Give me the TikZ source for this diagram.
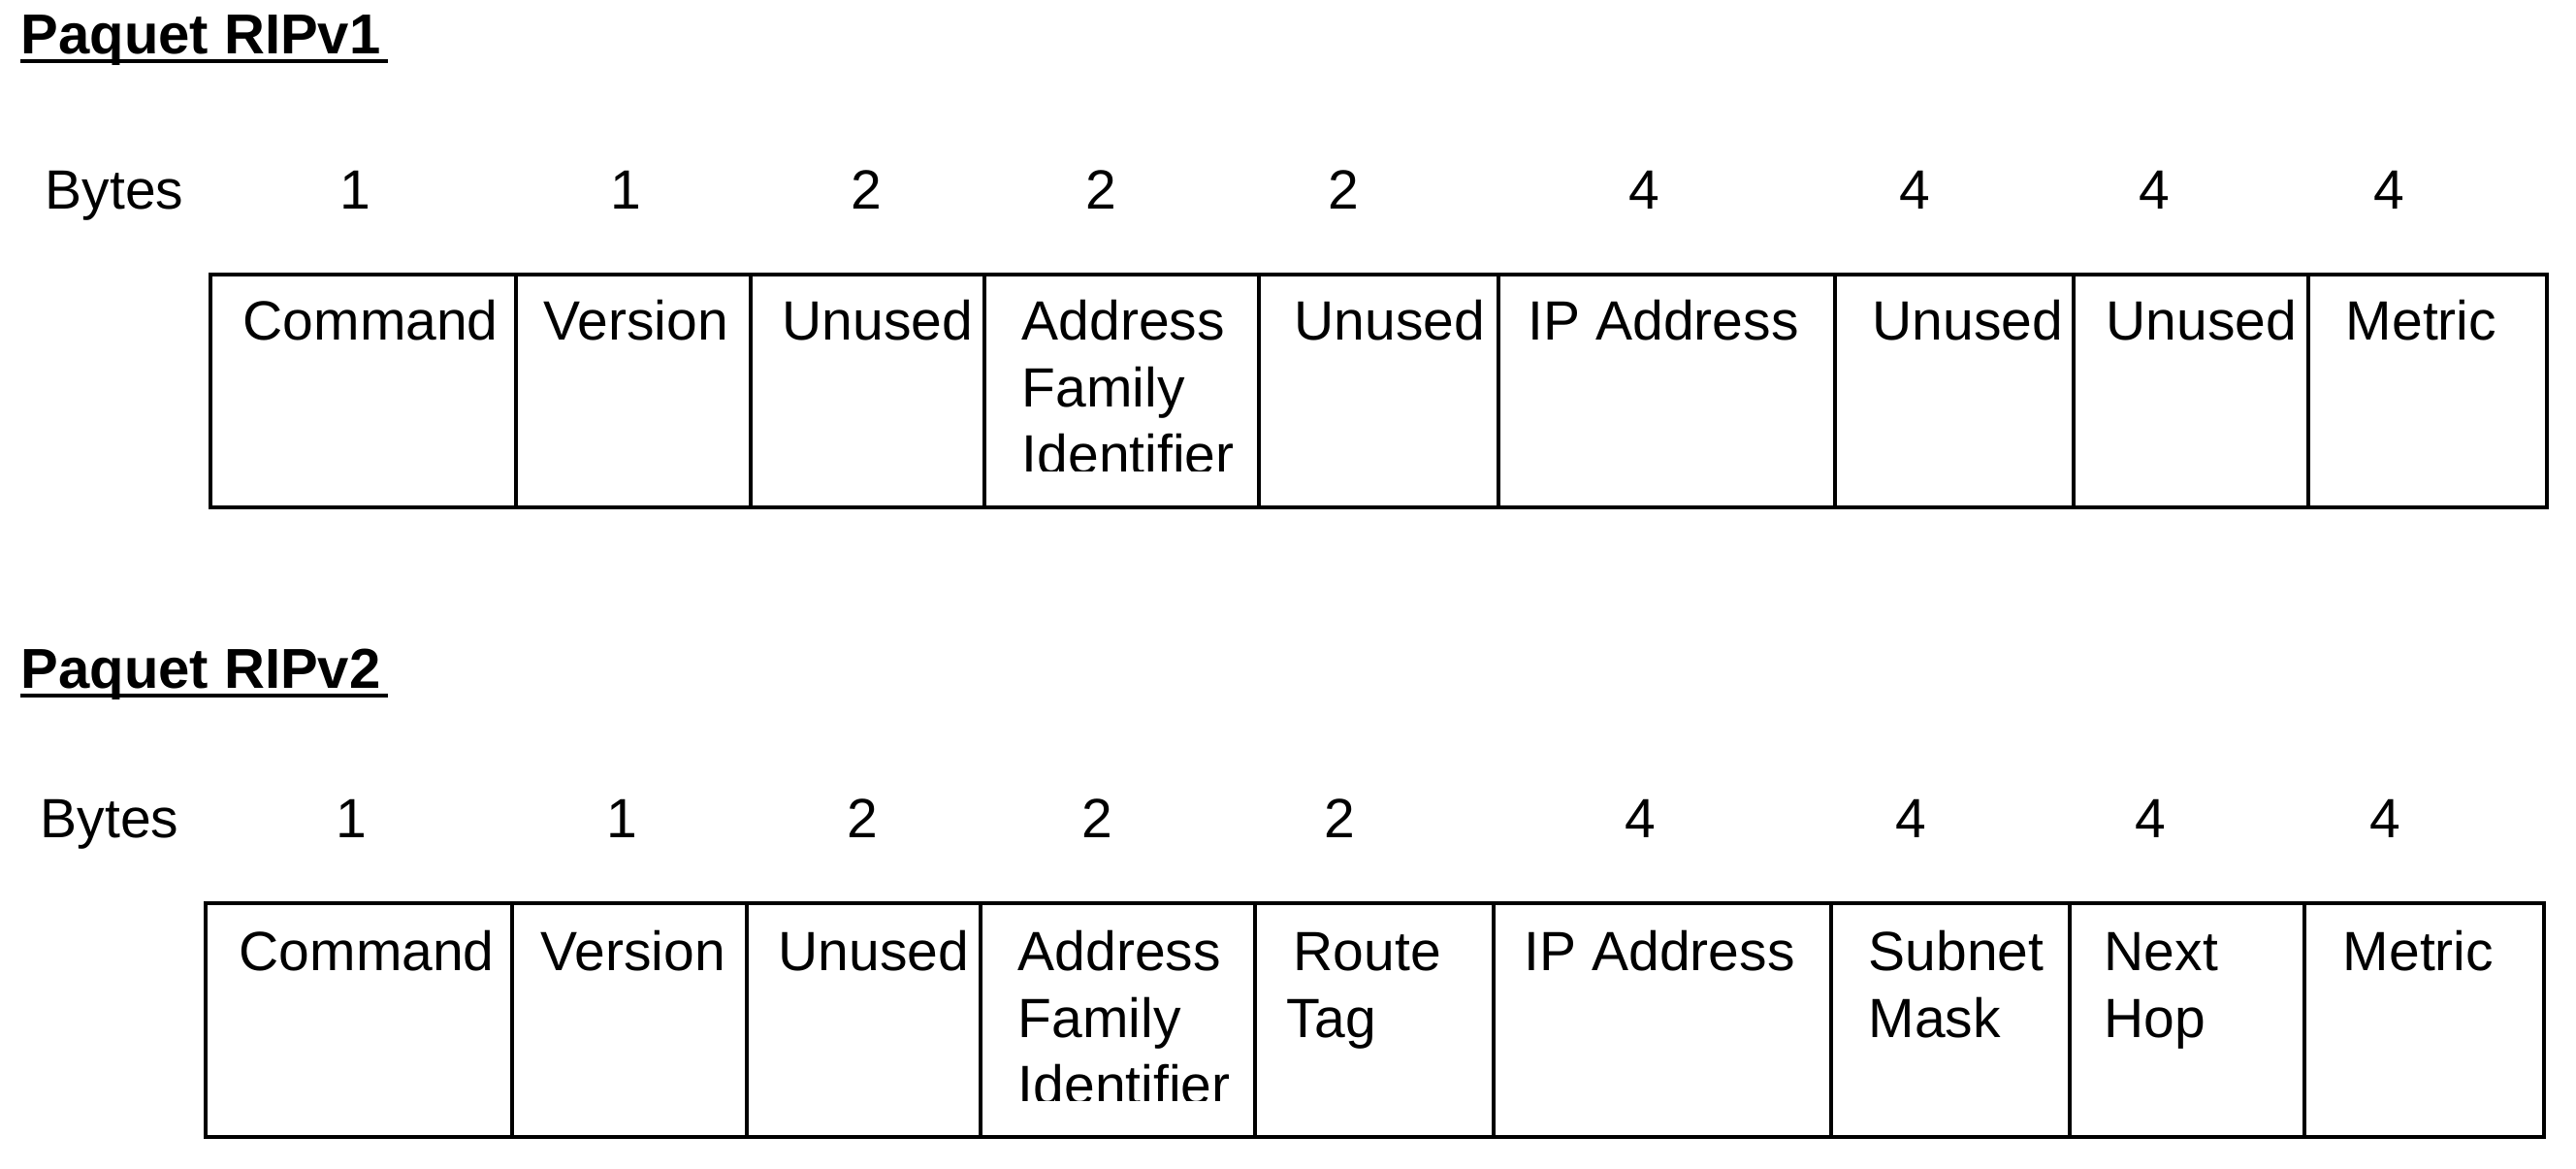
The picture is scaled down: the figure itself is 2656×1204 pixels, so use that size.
\documentclass[tikz,border=0pt]{standalone}
\usepackage{fontspec}
\setmainfont{Liberation Sans}
\begin{document}
\begin{tikzpicture}[x=0.25pt,y=-0.25pt,
  cell/.style={draw, line width=0.85pt, anchor=north west, inner sep=0pt, outer sep=0pt},
  lbl/.style={anchor=base west, inner sep=0pt, font=\fontsize{14.25}{17}\selectfont},
  num/.style={anchor=base, inner sep=0pt, font=\fontsize{14.25}{17}\selectfont},
  ttl/.style={anchor=base west, inner sep=0pt, font=\bfseries\fontsize{14.5}{17}\selectfont},
  uline/.style={line width=0.9pt}]
\useasboundingbox[fill=white] (0,0) rectangle (2656,1204);

% ---------------- RIPv1 ----------------
\node[ttl] (t1) at (21,55) {Paquet RIPv1};
\draw[uline] ([yshift=-2pt]t1.base west) -- ([yshift=-2pt,xshift=1.75pt]t1.base east);

\node[lbl] (b1) at (46,215) {Bytes};
\foreach \i/\x/\v in {1/366/1,2/645/1,3/893/2,4/1135/2,5/1385/2,6/1695/4,7/1974/4,8/2221/4,9/2463/4}
  \node[num] (n1\i) at (\x,215) {\v};

\foreach \i/\a/\b in {1/217/532,2/532/774,3/774/1015,4/1015/1298,5/1298/1545,6/1545/1892,7/1892/2138,8/2138/2380,9/2380/2626}
  \node[cell, minimum width={(\b-\a)*0.25pt}, minimum height=60pt] (r1c\i) at (\a,283) {};

\node[lbl] (r1l1) at (250,350) {Command};
\node[lbl] (r1l2) at (560,350) {Version};
\node[lbl] (r1l3) at (806,350) {Unused};
\node[lbl] (r1l4a) at (1053,350) {Address};
\node[lbl] (r1l4b) at (1053,419) {Family};
\begin{scope}
  \clip (1020,430) rectangle (1290,485);
  \node[lbl] (r1l4c) at (1053,488) {Identifier};
\end{scope}
\node[lbl] (r1l5) at (1334,350) {Unused};
\node[lbl] (r1l6) at (1575,350) {IP Address};
\node[lbl] (r1l7) at (1930,350) {Unused};
\node[lbl] (r1l8) at (2171,350) {Unused};
\node[lbl] (r1l9) at (2418,350) {Metric};

% ---------------- RIPv2 ----------------
\node[ttl] (t2) at (21,709) {Paquet RIPv2};
\draw[uline] ([yshift=-2pt]t2.base west) -- ([yshift=-2pt,xshift=1.75pt]t2.base east);

\node[lbl] (b2) at (41,863) {Bytes};
\foreach \i/\x/\v in {1/362/1,2/641/1,3/889/2,4/1131/2,5/1381/2,6/1691/4,7/1970/4,8/2217/4,9/2459/4}
  \node[num] (n2\i) at (\x,863) {\v};

\foreach \i/\a/\b in {1/212/528,2/528/770,3/770/1011,4/1011/1294,5/1294/1540,6/1540/1888,7/1888/2134,8/2134/2376,9/2376/2623}
  \node[cell, minimum width={(\b-\a)*0.25pt}, minimum height=60.25pt] (r2c\i) at (\a,931) {};

\node[lbl] (r2l1) at (246,1000) {Command};
\node[lbl] (r2l2) at (557,1000) {Version};
\node[lbl] (r2l3) at (802,1000) {Unused};
\node[lbl] (r2l4a) at (1049,1000) {Address};
\node[lbl] (r2l4b) at (1049,1069) {Family};
\begin{scope}
  \clip (1016,1080) rectangle (1286,1134);
  \node[lbl] (r2l4c) at (1049,1138) {Identifier};
\end{scope}
\node[lbl] (r2l5a) at (1333,1000) {Route};
\node[lbl] (r2l5b) at (1326,1069) {Tag};
\node[lbl] (r2l6) at (1571,1000) {IP Address};
\node[lbl] (r2l7a) at (1926,1000) {Subnet};
\node[lbl] (r2l7b) at (1926,1069) {Mask};
\node[lbl] (r2l8a) at (2169,1000) {Next};
\node[lbl] (r2l8b) at (2169,1069) {Hop};
\node[lbl] (r2l9) at (2415,1000) {Metric};
\end{tikzpicture}
\end{document}
